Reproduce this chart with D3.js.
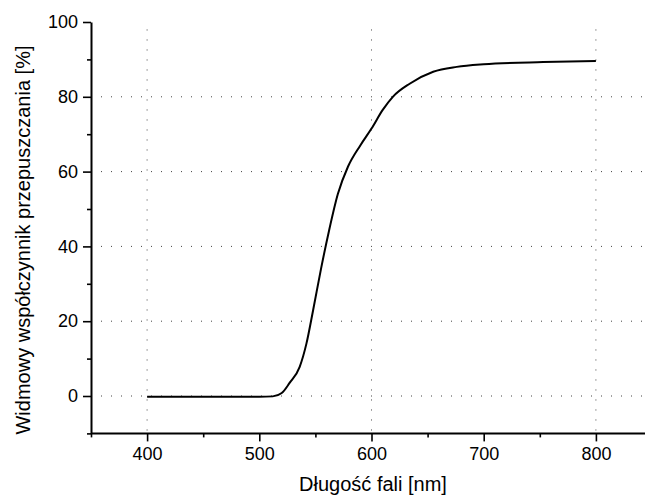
<!DOCTYPE html>
<html>
<head>
<meta charset="utf-8">
<script src="https://d3js.org/d3.v7.min.js"></script>
<style>
  body { margin: 0; background: #fff; }
  text { font-family: "Liberation Sans", Arial, sans-serif; fill: #000; }
</style>
</head>
<body>
<div id="chart"></div>
<script>
// wavelength [nm] and spectral transmittance [%]
var wavelength = [400, 450, 500, 512, 520, 527, 536, 542, 548, 555, 562, 570, 579, 590, 600, 610, 619, 634, 655, 676, 700, 753, 800];
var transmission = [-0.2, -0.2, -0.2, -0.1, 0.8, 3.5, 7.8, 14, 23, 34, 44, 54, 61.3, 67, 71.5, 76.5, 80, 83.5, 86.7, 88, 88.7, 89.3, 89.6];

var xTicks = [400, 500, 600, 700, 800];
var xMinor = [350, 450, 550, 650, 750, 850];
var yTicks = [0, 20, 40, 60, 80, 100];
var yMinor = [-10, 10, 30, 50, 70, 90];
var xGrid = [400, 600, 800];
var yGrid = [0, 20, 40, 60, 80];

var width = 645, height = 497;

var svg = d3.select("#chart").append("svg")
  .attr("width", width)
  .attr("height", height);

var x = d3.scaleLinear().domain([350, 850]).range([91, 652]);
var y = d3.scaleLinear().domain([-10, 100]).range([433.4, 22]);

// grid
svg.append("g").selectAll("line").data(yGrid).enter().append("line")
  .attr("x1", x(350)).attr("x2", width)
  .attr("y1", d => y(d)).attr("y2", d => y(d))
  .style("stroke", "#444").style("stroke-width", 1)
  .style("stroke-dasharray", "1,9");

svg.append("g").selectAll("line").data(xGrid).enter().append("line")
  .attr("x1", d => x(d)).attr("x2", d => x(d))
  .attr("y1", y(98)).attr("y2", y(-10))
  .style("stroke", "#444").style("stroke-width", 1)
  .style("stroke-dasharray", "1,9");

// axes
var xAxis = svg.append("g")
  .attr("transform", "translate(0," + y(-10) + ")")
  .call(d3.axisBottom(x).tickValues(xTicks).tickSize(8).tickPadding(6).tickSizeOuter(0));
svg.append("g")
  .attr("transform", "translate(0," + y(-10) + ")")
  .call(d3.axisBottom(x).tickValues(xMinor).tickSize(4).tickFormat("").tickSizeOuter(0))
  .select(".domain").remove();

var yAxis = svg.append("g")
  .attr("transform", "translate(" + x(350) + ",0)")
  .call(d3.axisLeft(y).tickValues(yTicks).tickSize(8).tickPadding(5).tickSizeOuter(0));
svg.append("g")
  .attr("transform", "translate(" + x(350) + ",0)")
  .call(d3.axisLeft(y).tickValues(yMinor).tickSize(4).tickFormat("").tickSizeOuter(0))
  .select(".domain").remove();

xAxis.select(".domain").attr("d", "M" + x(350) + ",0H" + width);
svg.selectAll(".domain").style("stroke-width", 2);
svg.selectAll(".tick line").style("stroke-width", 1.6);
svg.selectAll(".tick text").style("font-size", "18px").style("font-family", "'Liberation Sans', Arial, sans-serif");

// curve
var line = d3.line()
  .x((d, i) => x(wavelength[i]))
  .y(d => y(d))
  .curve(d3.curveMonotoneX);

svg.append("path")
  .datum(transmission)
  .attr("d", line)
  .style("fill", "none")
  .style("stroke", "#000")
  .style("stroke-width", 2);

// labels
svg.append("text")
  .attr("x", 373)
  .attr("y", 491)
  .attr("text-anchor", "middle")
  .style("font-size", "20px")
  .text("Długość fali [nm]");

svg.append("text")
  .attr("transform", "translate(29.5,240) rotate(-90)")
  .attr("text-anchor", "middle")
  .style("font-size", "20px")
  .text("Widmowy współczynnik przepuszczania [%]");
</script>
</body>
</html>
